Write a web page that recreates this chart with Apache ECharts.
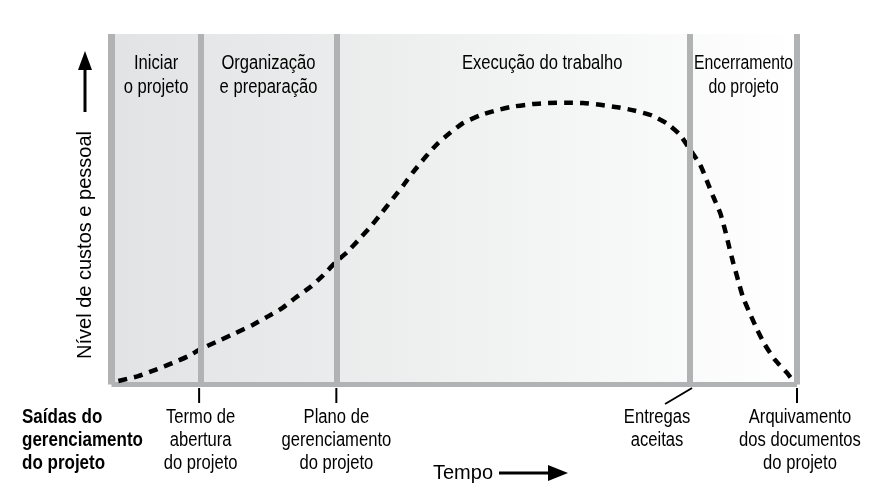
<!DOCTYPE html>
<html>
<head>
<meta charset="utf-8">
<script src="https://cdn.jsdelivr.net/npm/echarts@6/dist/echarts.min.js"></script>
<style>
html,body{margin:0;padding:0;background:#fff;}
#c{width:886px;height:502px;}
</style>
</head>
<body>
<div id="c"></div>
<script>
// ---- data ----
const phaseNames = ['Iniciar\no projeto', 'Organização\ne preparação', 'Execução do trabalho', 'Encerramento\ndo projeto'];
const phaseBounds = [0, 13, 32.8, 84.4, 100];
const milestoneX = [13, 32.8, 84.4, 100];
const milestoneLabels = ['Termo de\nabertura\ndo projeto', 'Plano de\ngerenciamento\ndo projeto', 'Entregas\naceitas', 'Arquivamento\ndos documentos\ndo projeto'];
const outputsTitle = 'Saídas do\ngerenciamento\ndo projeto';
const yTitle = 'Nível de custos e pessoal';
const xTitle = 'Tempo';
const effortX = [1.0, 3.9, 6.7, 8.9, 11.2, 13.0, 15.9, 18.1, 20.6, 22.7, 24.9, 26.8, 29.0, 30.9, 32.7, 34.4, 36.3, 38.0, 39.5, 41.1, 42.6, 44.0, 45.8, 47.5, 49.4, 51.3, 53.8, 56.3, 58.6, 61.4, 63.7, 66.5, 68.8, 71.3, 73.8, 76.4, 78.9, 81.0, 82.9, 84.4, 85.9, 86.9, 87.8, 88.8, 89.5, 90.1, 90.7, 91.4, 92.1, 93.1, 94.2, 95.3, 96.8, 98.5, 99.1];
const effortY = [1.0, 2.4, 4.4, 6.1, 8.1, 10.1, 12.7, 14.7, 17.0, 19.3, 21.8, 24.7, 27.8, 31.2, 34.9, 37.8, 41.8, 45.5, 49.2, 53.2, 56.9, 60.6, 64.9, 68.6, 71.8, 74.6, 76.8, 78.3, 79.3, 80.0, 80.3, 80.4, 80.3, 79.8, 79.1, 78.1, 76.7, 74.5, 71.3, 67.0, 62.6, 57.9, 53.5, 48.9, 44.1, 39.3, 34.7, 29.8, 25.0, 20.4, 15.6, 11.4, 7.0, 3.4, 1.9];

// ---- styles ----
const FONT = '"Liberation Sans", Arial, Helvetica, sans-serif';
const NARROW_SCALE = 0.83;
const PHASE_SCALE = [0.83, 0.83, 0.83, 0.79];
const BOLD_SCALE = 0.85;
const GRAY = '#b1b2b4';
const INK = '#000000';
const phaseLabelShift = [0, 0, 29, 0];
const milestoneLabelShift = [0, 0, -33, 3];
const tickShift = [-1.5, 0, 0, 0];

const chart = echarts.init(document.getElementById('c'), null, {renderer: 'canvas'});

const option = {
  animation: false,
  backgroundColor: '#ffffff',
  grid: {
    left: 111.5, top: 34, width: 685.5, height: 350.5,
    show: true, borderWidth: 0,
    backgroundColor: new echarts.graphic.LinearGradient(0, 0, 1, 0, [
      {offset: 0, color: '#e2e3e4'},
      {offset: 0.5, color: '#eff0f0'},
      {offset: 1, color: '#ffffff'}
    ])
  },
  xAxis: {
    type: 'value', min: 0, max: 100,
    axisLine: {show: true, lineStyle: {color: GRAY, width: 5, cap: 'butt'}},
    axisTick: {show: false}, axisLabel: {show: false}, splitLine: {show: false}
  },
  yAxis: {
    type: 'value', min: 0, max: 100,
    axisLine: {show: true, lineStyle: {color: GRAY, width: 7, cap: 'butt'}},
    axisTick: {show: false}, axisLabel: {show: false}, splitLine: {show: false}
  },
  series: [
    {
      type: 'line', data: [], z: 1, silent: true,
      markLine: {
        silent: true, symbol: 'none', animation: false,
        lineStyle: {color: GRAY, width: 6, type: 'solid', cap: 'butt'},
        label: {show: false},
        data: phaseBounds.slice(1).map(v => ({xAxis: v}))
      }
    },
    {
      // phase names, centred in each phase
      type: 'custom', z: 2, clip: false, silent: true,
      data: phaseNames.map((n, i) => [phaseBounds[i], phaseBounds[i + 1], i]),
      renderItem: function (params, api) {
        const idx = api.value(2);
        const a = api.coord([api.value(0), 100]);
        const b = api.coord([api.value(1), 100]);
        return {
          type: 'text',
          x: (a[0] + b[0]) / 2 + phaseLabelShift[idx], y: a[1] + 17,
          scaleX: PHASE_SCALE[idx],
          style: {
            text: phaseNames[idx], x: 0, y: 0,
            align: 'center', verticalAlign: 'top', lineHeight: 24,
            fontSize: 20, fontFamily: FONT, fill: INK
          }
        };
      }
    },
    {
      // milestone ticks and output labels
      type: 'custom', z: 2, clip: false, silent: true,
      data: milestoneX.map((x, i) => [x, i]),
      renderItem: function (params, api) {
        const idx = api.value(1);
        const p = api.coord([api.value(0), 0]);
        const tx = p[0] + tickShift[idx];
        const tick = idx === 2
          ? {x1: p[0] + 2, y1: p[1] + 3.5, x2: p[0] - 25, y2: p[1] + 19.5}
          : {x1: tx, y1: p[1] + 3.5, x2: tx, y2: p[1] + 18.5};
        return {
          type: 'group',
          children: [
            {type: 'line', shape: tick, style: {stroke: '#000', lineWidth: 2}},
            {type: 'text', x: p[0] + milestoneLabelShift[idx], y: p[1] + 21, scaleX: NARROW_SCALE, style: {
              text: milestoneLabels[idx], x: 0, y: 0,
              align: 'center', verticalAlign: 'top', lineHeight: 23,
              fontSize: 20, fontFamily: FONT, fill: INK
            }}
          ]
        };
      }
    },
    {
      type: 'line', z: 3, silent: true,
      data: effortX.map((x, i) => [x, effortY[i]]),
      showSymbol: false, smooth: 0.2,
      lineStyle: {color: '#000', width: 4.5, type: [9, 7], cap: 'butt'}
    }
  ],
  graphic: [
    {type: 'text', x: 22, y: 405.5, scaleX: BOLD_SCALE, style: {
      text: outputsTitle, fontSize: 20, fontWeight: 'bold', fontFamily: FONT,
      lineHeight: 23, fill: '#000', align: 'left', verticalAlign: 'top'
    }},
    {type: 'text', x: 85, y: 245, rotation: Math.PI / 2, style: {
      text: yTitle, fontSize: 20, fontFamily: FONT, fill: INK, align: 'center', verticalAlign: 'middle'
    }},
    {type: 'line', shape: {x1: 85, y1: 112, x2: 85, y2: 66}, style: {stroke: '#000', lineWidth: 3}},
    {type: 'polygon', shape: {points: [[85, 51], [78, 70], [92, 70]]}, style: {fill: '#000'}},
    {type: 'text', x: 433, y: 473, style: {
      text: xTitle, fontSize: 20, fontFamily: FONT, fill: INK, align: 'left', verticalAlign: 'middle'
    }},
    {type: 'line', shape: {x1: 499, y1: 473, x2: 552, y2: 473}, style: {stroke: '#000', lineWidth: 3}},
    {type: 'polygon', shape: {points: [[568, 473], [548, 465], [548, 481]]}, style: {fill: '#000'}}
  ]
};
chart.setOption(option);
</script>
</body>
</html>
